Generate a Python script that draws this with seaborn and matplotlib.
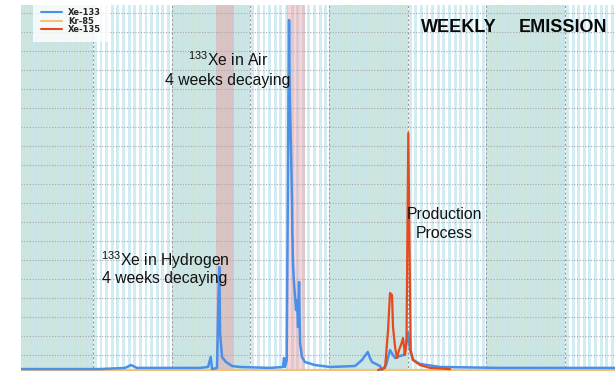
import numpy as np
import pandas as pd
import matplotlib
matplotlib.use("Agg")
import matplotlib.pyplot as plt
from matplotlib.lines import Line2D
import seaborn as sns

# ---------------- data (days, arbitrary activity units) ----------------
xe133_day = [0.59, 4.06, 7.62, 9.85, 10.38, 10.91, 12.96, 16.52, 17.23, 17.47, 17.59,
             18.03, 18.15, 18.24, 18.30, 18.48, 18.83, 19.37, 20.08, 22.75, 23.90,
             23.99, 24.08, 24.23, 24.44, 24.50, 24.62, 24.70, 24.73, 24.79, 24.88,
             25.06, 25.15, 25.24, 25.33, 25.42, 25.59, 25.86, 26.75, 28.09, 30.31,
             30.93, 31.44, 31.64, 31.82, 32.53, 32.71, 33.07, 33.42, 33.69, 33.87,
             34.31, 34.67, 34.85, 35.03, 35.20, 35.47, 36.09, 37.87, 43.21, 53.44]
xe133_val = [0.26, 0.26, 0.26, 0.32, 0.47, 0.32, 0.32, 0.32, 0.37, 0.89, 0.26,
             0.32, 3.89, 5.63, 2.16, 0.89, 0.63, 0.42, 0.37, 0.32, 0.37,
             0.84, 0.37, 0.74, 18.63, 14.79, 11.63, 9.16, 7.58, 5.84, 4.79,
             3.37, 3.89, 2.47, 4.84, 1.63, 0.89, 0.63, 0.47, 0.37, 0.42,
             0.74, 1.16, 0.84, 0.63, 0.42, 0.21, 0.47, 1.26, 1.00, 0.84,
             0.95, 1.00, 1.53, 2.16, 1.26, 0.74, 0.53, 0.37, 0.32, 0.32]

kr85_day = [0.59, 20.0, 40.0, 53.44]
kr85_val = [0.22, 0.22, 0.22, 0.22]

xe135_day = [32.36, 32.98, 33.25, 33.42, 33.60, 33.69, 33.87, 34.04, 34.22, 34.40,
             34.58, 34.76, 34.89, 35.05, 35.16, 35.26, 35.47, 36.09, 36.98, 38.76]
xe135_val = [0.21, 0.32, 2.32, 4.26, 4.16, 2.47, 1.42, 0.84, 1.26, 1.53,
             1.89, 1.00, 1.79, 12.68, 6.53, 1.26, 0.74, 0.47, 0.32, 0.26]

isotopes = ["Xe-133", "Kr-85", "Xe-135"]
green_weeks_start = [0, 14, 28, 42]          # shaded (green) weeks
week_lines = [7, 14, 21, 28, 35, 42, 49]
decay_start = [17.94, 24.26]                 # highlighted release windows
decay_end = [19.54, 25.86]

# ---------------- figure ----------------
sns.set_theme(style="white")
plt.rcParams["font.family"] = ["Liberation Sans", "DejaVu Sans"]
plt.rcParams["mathtext.fontset"] = "custom"
plt.rcParams["mathtext.rm"] = "Liberation Sans"
plt.rcParams["mathtext.it"] = "Liberation Sans"

fig = plt.figure(figsize=(6.15, 3.71), dpi=100)
ax = fig.add_axes([21 / 615, -3 / 371, 594 / 615, 369 / 371])
ax.set_facecolor("white")

x0, x1 = 0.59, 53.44
ax.set_xlim(x0, x1)
ax.set_ylim(0, 19.42)

# green weeks
for g in green_weeks_start:
    ax.axvspan(g, g + 7, color="#a3cfbb", alpha=0.55, lw=0, zorder=0.1)
# half-day stripes
for s in np.arange(0.0, 54.0, 0.5):
    ax.axvspan(s + 0.08, s + 0.34, color="#c9e6ef", alpha=0.8, lw=0, zorder=0.2)
# red decay windows
for a, b in zip(decay_start, decay_end):
    ax.axvspan(a, b, color="#ec8f98", alpha=0.38, lw=0, zorder=0.3)

# grid
for yy in range(1, 20):
    ax.axhline(yy, color="#a8a8a8", lw=0.8, ls=(0, (1, 1.5)), zorder=0.5)
for w in week_lines:
    ax.axvline(w, color="#9a9a9a", lw=0.8, ls=(0, (2, 2)), zorder=0.5)

df = pd.concat([
    pd.DataFrame({"day": kr85_day, "value": kr85_val, "isotope": "Kr-85"}),
    pd.DataFrame({"day": xe133_day, "value": xe133_val, "isotope": "Xe-133"}),
    pd.DataFrame({"day": xe135_day, "value": xe135_val, "isotope": "Xe-135"}),
], ignore_index=True)
palette = {"Xe-133": "#4a8fe8", "Kr-85": "#f3c27a", "Xe-135": "#e54a1c"}

sns.lineplot(data=df[df.isotope == "Kr-85"], x="day", y="value", color=palette["Kr-85"],
             lw=1.6, estimator=None, sort=False, ax=ax, legend=False, zorder=2)
sns.lineplot(data=df[df.isotope == "Xe-133"], x="day", y="value", color=palette["Xe-133"],
             lw=1.8, estimator=None, sort=False, ax=ax, legend=False, zorder=3)
sns.lineplot(data=df[df.isotope == "Xe-135"], x="day", y="value", color=palette["Xe-135"],
             lw=1.6, estimator=None, sort=False, ax=ax, legend=False, zorder=4)

ax.set_xlabel("")
ax.set_ylabel("")
ax.set_xticks([])
ax.set_yticks([])
for sp in ax.spines.values():
    sp.set_visible(False)

# annotations
tkw = dict(fontsize=11.3, color="#111111", ha="center", va="center", zorder=6)
ax.text(19.01, 16.53, r"$^{133}$Xe in Air", **tkw)
ax.text(19.01, 15.47, "4 weeks decaying", **tkw)
ax.text(13.41, 6.0, r"$^{133}$Xe in Hydrogen", **tkw)
ax.text(13.41, 5.0, "4 weeks decaying", **tkw)
ax.text(38.23, 8.37, "Production", **tkw)
ax.text(38.23, 7.42, "Process", **tkw)

bkw = dict(fontsize=13, fontweight="bold", color="#0a0a0a", ha="left", va="center", zorder=6)
ax.text(36.18, 18.21, "WEEKLY", **bkw)
ax.text(44.90, 18.21, "EMISSION", **bkw)

# legend
handles = [Line2D([], [], color=palette[k], lw=1.5) for k in isotopes]
leg = ax.legend(handles, isotopes, loc="upper left",
                bbox_to_anchor=(33 / 615, 1.0), bbox_transform=fig.transFigure,
                prop={"family": "DejaVu Sans", "weight": "bold", "size": 6},
                handlelength=2.5, handletextpad=0.7, labelspacing=-0.1,
                borderpad=1.0, borderaxespad=0, frameon=True, fancybox=False)
leg.get_frame().set_facecolor("white")
leg.get_frame().set_edgecolor("none")
leg.get_frame().set_alpha(0.8)
leg.set_zorder(7)

fig.savefig("out.png", dpi=100)
